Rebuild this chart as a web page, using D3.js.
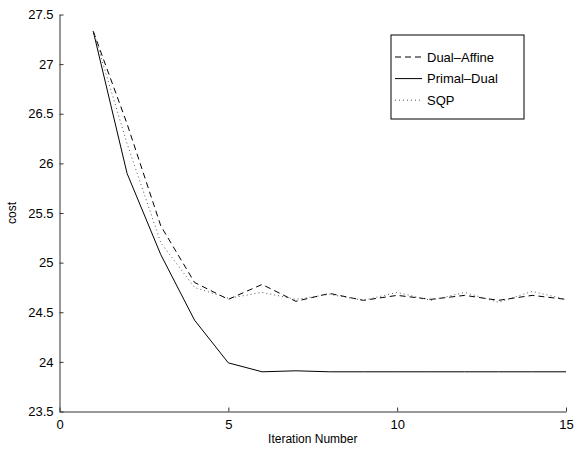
<!DOCTYPE html>
<html>
<head>
<meta charset="utf-8">
<script src="https://cdn.jsdelivr.net/npm/d3@7"></script>
<style>
  body { margin: 0; background: #fff; }
  svg { display: block; font-family: "Liberation Sans", Arial, sans-serif; }
</style>
</head>
<body>
<div class="chart"></div>
<script>
const width = 580;
const height = 449;

// iteration numbers and cost per method
const iterations = [1, 2, 3, 4, 5, 6, 7, 8, 9, 10, 11, 12, 13, 14, 15];
const dualAffine = [27.33, 26.4, 25.37, 24.8, 24.63, 24.78, 24.61, 24.69, 24.62, 24.67, 24.63, 24.67, 24.62, 24.67, 24.63];
const primalDual = [27.33, 25.9, 25.08, 24.42, 23.99, 23.9, 23.91, 23.9, 23.9, 23.9, 23.9, 23.9, 23.9, 23.9, 23.9];
const sqp = [27.33, 26.2, 25.2, 24.75, 24.64, 24.7, 24.63, 24.68, 24.62, 24.7, 24.62, 24.7, 24.6, 24.71, 24.63];

const xTicks = [0, 5, 10, 15];
const yTicks = [23.5, 24, 24.5, 25, 25.5, 26, 26.5, 27, 27.5];

const series = [
    {name: "Dual\u2013Affine", values: dualAffine, dash: "6,4", color: "#000"},
    {name: "Primal\u2013Dual", values: primalDual, dash: null, color: "#000"},
    {name: "SQP", values: sqp, dash: "1,3", color: "#555"}
];

const margin = {left: 59.5, right: 14, top: 14.5, bottom: 37.5};

const svg = d3.select(".chart")
    .append("svg")
    .attr("width", width)
    .attr("height", height);

let x = d3.scaleLinear().domain([0, 15]).range([margin.left, width - margin.right]);
let y = d3.scaleLinear().domain([23.5, 27.5]).range([height - margin.bottom, margin.top]);

// axes, ticks pointing inward like matlab
svg.append("g")
    .attr("transform", `translate(0,${height - margin.bottom})`)
    .call(d3.axisBottom(x).tickValues(xTicks).tickSize(-4).tickPadding(6).tickSizeOuter(0))
    .call(g => g.selectAll("text").attr("font-size", 13).attr("fill", "#000").attr("dy", "0.9em"))
    .call(g => g.selectAll("line, path").attr("stroke", "#333"));

svg.append("g")
    .attr("transform", `translate(${margin.left},0)`)
    .call(d3.axisLeft(y).tickValues(yTicks).tickFormat(d3.format("")).tickSize(-4).tickPadding(6).tickSizeOuter(0))
    .call(g => g.selectAll("text").attr("font-size", 13).attr("fill", "#000"))
    .call(g => g.selectAll("line, path").attr("stroke", "#333"));

svg.append("text")
    .attr("x", (x(0) + x(15)) / 2)
    .attr("y", 443)
    .attr("text-anchor", "middle")
    .attr("font-size", 12)
    .text("Iteration Number");

svg.append("text")
    .attr("transform", `translate(16,${(y(23.5) + y(27.5)) / 2}) rotate(-90)`)
    .attr("text-anchor", "middle")
    .attr("font-size", 12)
    .text("cost");

let line = d3.line()
    .x((d, i) => x(iterations[i]))
    .y(d => y(d));

svg.append("g")
    .selectAll("path")
    .data(series)
    .join("path")
    .attr("d", d => line(d.values))
    .attr("fill", "none")
    .attr("stroke", d => d.color)
    .attr("stroke-width", 1)
    .attr("stroke-dasharray", d => d.dash);

// legend
const legend = svg.append("g").attr("transform", "translate(391,35)");
legend.append("rect")
    .attr("width", 133)
    .attr("height", 84)
    .attr("fill", "#fff")
    .attr("stroke", "#000");

const item = legend.selectAll("g")
    .data(series)
    .join("g")
    .attr("transform", (d, i) => `translate(0,${22 + i * 21.6})`);

item.append("line")
    .attr("x1", 4).attr("x2", 31)
    .attr("stroke", d => d.color)
    .attr("stroke-dasharray", d => d.dash);

item.append("text")
    .attr("x", 36)
    .attr("dy", "0.35em")
    .attr("font-size", 13)
    .text(d => d.name);
</script>
</body>
</html>
